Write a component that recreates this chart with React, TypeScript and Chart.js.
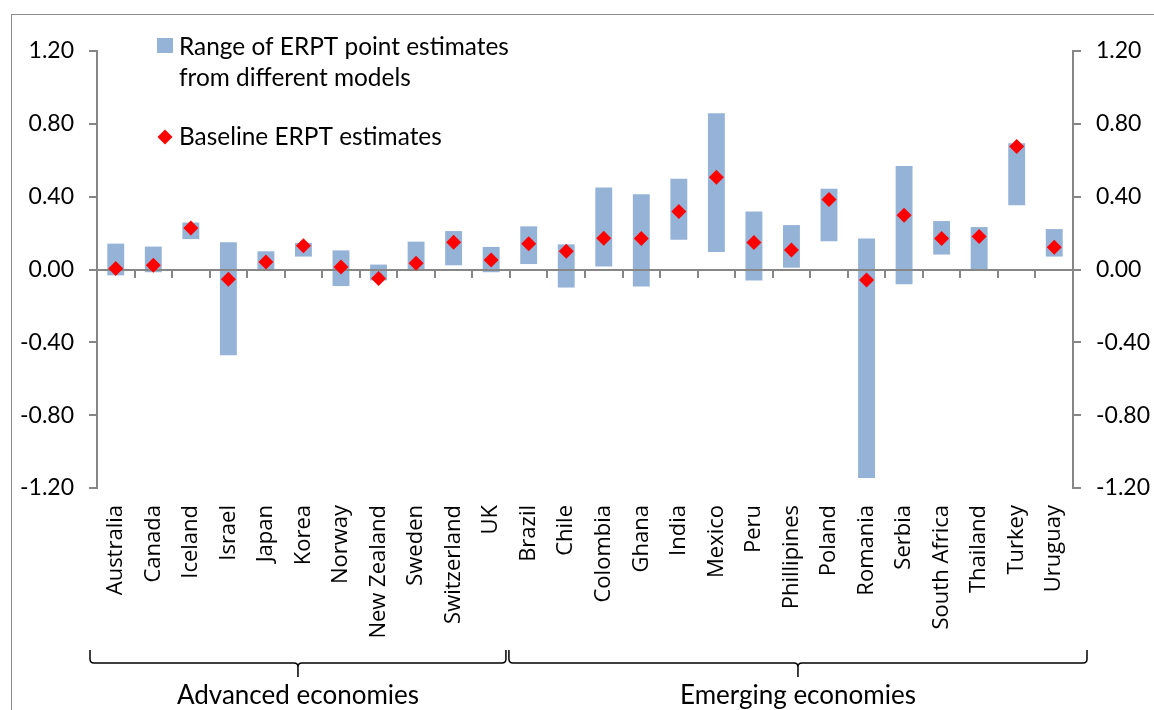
import React, { useEffect, useRef } from "react";
import { Chart, registerables } from "chart.js";

Chart.register(...registerables);

const countries = [
  "Australia", "Canada", "Iceland", "Israel", "Japan", "Korea", "Norway",
  "New Zealand", "Sweden", "Switzerland", "UK", "Brazil", "Chile", "Colombia",
  "Ghana", "India", "Mexico", "Peru", "Phillipines", "Poland", "Romania",
  "Serbia", "South Africa", "Thailand", "Turkey", "Uruguay",
];

const rangeLow = [
  -0.032, -0.015, 0.167, -0.471, -0.008, 0.071, -0.091, -0.06, -0.008, 0.023, -0.015,
  0.030, -0.099, 0.016, -0.094, 0.164, 0.096, -0.061, 0.010, 0.155, -1.145,
  -0.081, 0.082, -0.006, 0.353, 0.071,
];

const rangeHigh = [
  0.142, 0.126, 0.258, 0.149, 0.100, 0.146, 0.105, 0.027, 0.153, 0.211, 0.124,
  0.237, 0.138, 0.451, 0.413, 0.499, 0.858, 0.318, 0.244, 0.444, 0.170,
  0.568, 0.266, 0.233, 0.693, 0.222,
];

const baseline = [
  0.005, 0.023, 0.228, -0.054, 0.041, 0.131, 0.014, -0.050, 0.034, 0.149, 0.052,
  0.142, 0.100, 0.171, 0.170, 0.318, 0.506, 0.148, 0.107, 0.385, -0.058,
  0.298, 0.170, 0.181, 0.675, 0.122,
];

const yMin = -1.2;
const yMax = 1.2;
const yStep = 0.4;

const groupNames = ["Advanced economies", "Emerging economies"];
const groupSizes = [11, 15];

const legendRangeLines = ["Range of ERPT point estimates", "from different models"];
const legendBaselineText = "Baseline ERPT estimates";

const FONT = "Lato";
const XFONT = "'Open Sans'";
const AXIS = "#868686";
const BAR = "#95B3D7";
const RED = "#FF0000";

const fmt = (v: number) => (Math.abs(v) < 1e-9 ? "0.00" : v.toFixed(2));

const overlayPlugin = {
  id: "overlay",
  beforeDatasetDraw(chart: any, args: any) {
    if (args.index !== 1) return;
    const { ctx, chartArea, scales } = chart;
    const x = scales.x;
    const y = scales.y;
    const y0 = Math.round(y.getPixelForValue(0));
    ctx.save();
    ctx.strokeStyle = AXIS;
    ctx.lineWidth = 2;
    ctx.beginPath();
    ctx.moveTo(chartArea.left, y0);
    ctx.lineTo(chartArea.right, y0);
    for (let i = 1; i < countries.length; i++) {
      const bx = Math.round((x.getPixelForTick(i - 1) + x.getPixelForTick(i)) / 2);
      ctx.moveTo(bx, y0);
      ctx.lineTo(bx, y0 + 8);
    }
    ctx.stroke();
    ctx.restore();
  },
  afterDraw(chart: any) {
    const { ctx, scales } = chart;
    const x = scales.x;
    const step = x.getPixelForTick(1) - x.getPixelForTick(0);
    ctx.save();

    // group braces
    const topY = 650;
    const lineY = 663;
    const tipY = 677;
    const r = 4;
    let start = 0;
    groupSizes.forEach((n, gi) => {
      const leftEdge = x.getPixelForTick(start) - step / 2;
      const rightEdge = x.getPixelForTick(start + n - 1) + step / 2;
      const x1 = gi === 0 ? leftEdge - 7 : leftEdge - 1;
      const x2 = gi === 0 ? rightEdge - 4 : rightEdge + 14;
      const mid = (x1 + x2) / 2;
      ctx.strokeStyle = "#000";
      ctx.lineWidth = 1.5;
      ctx.beginPath();
      ctx.moveTo(x1, topY);
      ctx.lineTo(x1, lineY - r);
      ctx.quadraticCurveTo(x1, lineY, x1 + r, lineY);
      ctx.lineTo(mid - r, lineY);
      ctx.quadraticCurveTo(mid, lineY, mid, lineY + r);
      ctx.lineTo(mid, tipY);
      ctx.moveTo(x2, topY);
      ctx.lineTo(x2, lineY - r);
      ctx.quadraticCurveTo(x2, lineY, x2 - r, lineY);
      ctx.lineTo(mid + r, lineY);
      ctx.quadraticCurveTo(mid, lineY, mid, lineY + r);
      ctx.stroke();
      ctx.fillStyle = "#000";
      ctx.font = `26px ${FONT}`;
      ctx.textAlign = "center";
      ctx.textBaseline = "alphabetic";
      ctx.fillText(groupNames[gi], mid, 704);
      start += n;
    });

    // legend
    ctx.fillStyle = BAR;
    ctx.fillRect(157, 38, 16, 15);
    ctx.fillStyle = RED;
    const cx = 165, cy = 137, d = 7.5;
    ctx.beginPath();
    ctx.moveTo(cx - d, cy);
    ctx.lineTo(cx, cy - d);
    ctx.lineTo(cx + d, cy);
    ctx.lineTo(cx, cy + d);
    ctx.closePath();
    ctx.fill();
    ctx.fillStyle = "#000";
    ctx.font = `24.4px ${FONT}`;
    ctx.textAlign = "left";
    ctx.textBaseline = "alphabetic";
    ctx.fillText(legendRangeLines[0], 179, 54.5);
    ctx.fillText(legendRangeLines[1], 179, 86);
    ctx.fillText(legendBaselineText, 179, 145);
    ctx.restore();
  },
};

export default function App() {
  const canvasRef = useRef<HTMLCanvasElement | null>(null);

  useEffect(() => {
    if (!canvasRef.current) return;
    Chart.defaults.font.family = FONT;
    const yCommon = {
      min: yMin,
      max: yMax,
      grid: {
        display: true,
        drawOnChartArea: false,
        drawTicks: true,
        tickLength: 8,
        tickColor: AXIS,
        lineWidth: 2,
      },
      border: { display: true, color: AXIS, width: 2 },
    };
    const chart = new Chart(canvasRef.current, {
      type: "bar",
      data: {
        labels: countries,
        datasets: [
          {
            type: "bar",
            label: "Range",
            data: countries.map((_, i) => [rangeLow[i], rangeHigh[i]]),
            backgroundColor: BAR,
            borderWidth: 0,
            barPercentage: 0.45,
            categoryPercentage: 1,
            yAxisID: "y",
            order: 2,
          } as any,
          {
            type: "line",
            label: "Baseline",
            data: baseline,
            showLine: false,
            pointStyle: "rectRot",
            pointRadius: 7.5,
            pointBackgroundColor: RED,
            pointBorderColor: RED,
            pointBorderWidth: 0,
            yAxisID: "y",
            order: 1,
          } as any,
        ],
      },
      options: {
        animation: false,
        responsive: false,
        layout: { padding: { top: 51, left: 0, right: 0, bottom: 0 } },
        plugins: {
          legend: { display: false },
          tooltip: { enabled: false },
        },
        scales: {
          x: {
            grid: { display: false, drawTicks: false },
            border: { display: false },
            ticks: {
              autoSkip: false,
              minRotation: 90,
              maxRotation: 90,
              padding: 17,
              color: "#000",
              font: { family: XFONT, size: 22 },
            },
            afterFit: (s: any) => {
              s.height = 222;
            },
          },
          y: {
            ...yCommon,
            position: "left",
            ticks: {
              stepSize: yStep,
              padding: 15,
              color: "#000",
              font: { family: FONT, size: 23 },
              callback: (v: any) => fmt(Number(v)),
            },
            afterFit: (s: any) => {
              s.width = 97;
            },
          },
          y2: {
            ...yCommon,
            position: "right",
            ticks: {
              stepSize: yStep,
              padding: 15,
              color: "#000",
              font: { family: FONT, size: 23 },
              callback: (v: any) => fmt(Number(v)),
            },
            afterFit: (s: any) => {
              s.width = 81;
            },
          },
        },
      } as any,
      plugins: [overlayPlugin],
    });
    return () => chart.destroy();
  }, []);

  return (
    <div
      style={{
        position: "fixed",
        left: 0,
        top: 0,
        width: 1154,
        height: 710,
        overflow: "hidden",
        background: "#fff",
      }}
    >
      <div
        style={{
          position: "absolute",
          left: 11,
          top: 14,
          width: 1300,
          height: 900,
          border: "1px solid #8c8c8c",
        }}
      />
      <canvas
        ref={canvasRef}
        width={1154}
        height={710}
        style={{ position: "absolute", left: 0, top: 0, width: 1154, height: 710 }}
      />
    </div>
  );
}
